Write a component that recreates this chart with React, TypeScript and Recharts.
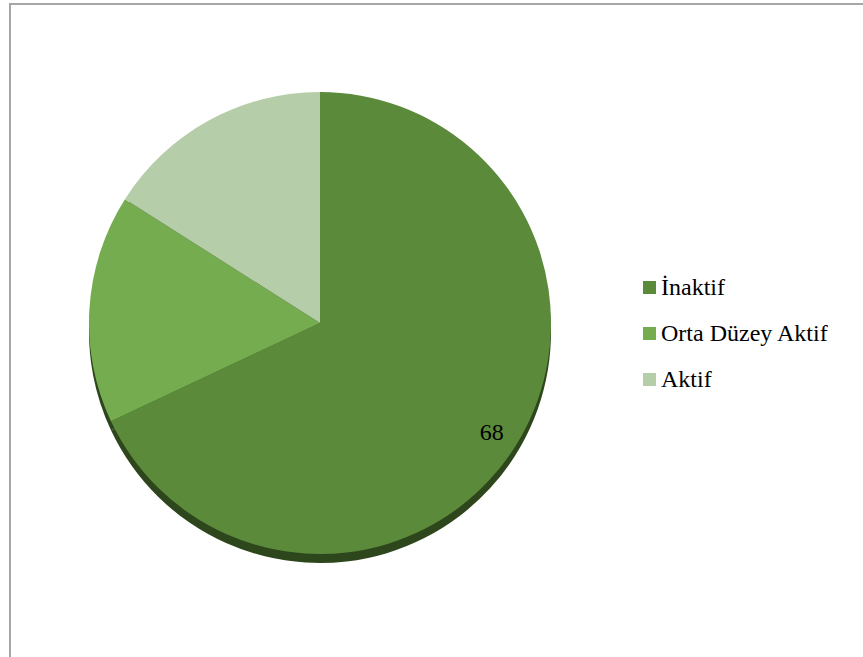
import React from 'react'
import { PieChart, Pie, Cell, Legend } from 'recharts'

const categories = ['İnaktif', 'Orta Düzey Aktif', 'Aktif']
const values = [68, 16, 16]
const colors = ['#5a8a3a', '#76ac50', '#b5cda8']
const shownLabels = [true, false, false]

const data = categories.map((name, i) => ({ name, value: values[i] }))

const FONT = '"Times New Roman", "Liberation Serif", Tinos, "DejaVu Serif", serif'
const RADIAN = Math.PI / 180

function renderLabel(props: any) {
    const { cx, cy, midAngle, outerRadius, index, value } = props
    if (!shownLabels[index]) return null
    const r = outerRadius * 0.88
    const x = cx + r * Math.cos(-midAngle * RADIAN)
    const y = cy + r * Math.sin(-midAngle * RADIAN)
    return (
        <text x={x} y={y} fill="#000" fontSize={24} style={{ fontFamily: FONT }} textAnchor="middle" dominantBaseline="central">
            {value}
        </text>
    )
}

function LegendBox() {
    return (
        <div style={{ fontFamily: FONT, fontSize: 24, color: '#000' }}>
            {categories.map((c, i) => (
                <div key={c} style={{ display: 'flex', alignItems: 'center', height: 46 }}>
                    <span style={{ width: 13, height: 13, background: colors[i], marginRight: 5, display: 'inline-block' }} />
                    <span>{c}</span>
                </div>
            ))}
        </div>
    )
}

export default function App() {
    return (
        <div style={{ position: 'absolute', left: 0, top: 0, width: 863, height: 657, background: '#fff', overflow: 'hidden', fontFamily: FONT }}>
            <div style={{ position: 'absolute', left: 9, top: 3, width: 900, height: 700, borderTop: '2px solid #a6a6a6', borderLeft: '2px solid #a6a6a6' }} />
            <div style={{ position: 'absolute', left: 0, top: 0 }}>
                <PieChart width={863} height={657}>
                    {/* shadow underneath */}
                    <Pie
                        data={data}
                        dataKey="value"
                        cx={315}
                        cy={327}
                        outerRadius={231}
                        startAngle={90}
                        endAngle={-270}
                        stroke="none"
                        fill="#2d461c"
                        legendType="none"
                        isAnimationActive={false}
                    />
                    <Pie
                        data={data}
                        dataKey="value"
                        cx={315}
                        cy={318}
                        outerRadius={231}
                        startAngle={90}
                        endAngle={-270}
                        stroke="none"
                        label={renderLabel}
                        labelLine={false}
                        isAnimationActive={false}
                    >
                        {data.map((d, i) => (
                            <Cell key={d.name} fill={colors[i]} />
                        ))}
                    </Pie>
                    <Legend
                        content={<LegendBox />}
                        layout="vertical"
                        wrapperStyle={{ left: 643, top: 264, width: 220, bottom: 'auto' }}
                    />
                </PieChart>
            </div>
        </div>
    )
}
